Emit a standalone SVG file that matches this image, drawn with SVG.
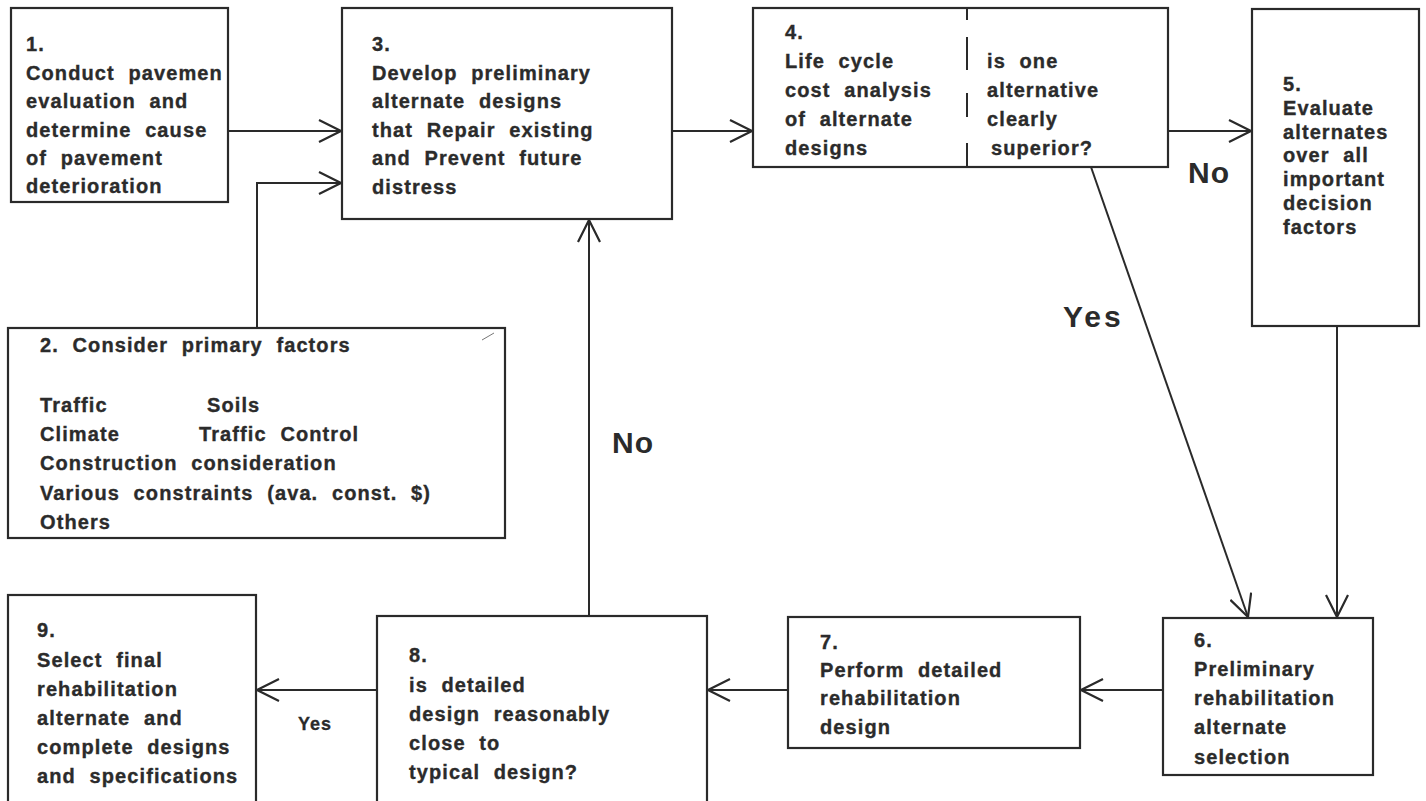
<svg xmlns="http://www.w3.org/2000/svg" width="1426" height="801" viewBox="0 0 1426 801">
  <defs>
    <style>
      .box { fill: #ffffff; stroke: #2a2a2a; stroke-width: 2.2; }
      .t { font-family: "Liberation Sans", Arial, sans-serif; font-weight: bold; font-size: 20px; fill: #2b2b2b; stroke: #2b2b2b; stroke-width: 0.35px; letter-spacing: 1.1px; word-spacing: 7px; }
      .lbl { font-family: "Liberation Sans", Arial, sans-serif; font-weight: bold; font-size: 30px; fill: #2b2b2b; letter-spacing: 1px; }
      .lbl-s { font-family: "Liberation Sans", Arial, sans-serif; font-weight: bold; font-size: 18px; fill: #2b2b2b; stroke: #2b2b2b; stroke-width: 0.3px; letter-spacing: 1px; }
      .line { fill: none; stroke: #2a2a2a; stroke-width: 2; }
    </style>
    <marker id="arrow" viewBox="0 0 24 24" refX="23" refY="12" markerWidth="24" markerHeight="24" markerUnits="userSpaceOnUse" orient="auto">
      <path d="M1,1 L23,12 L1,23" fill="none" stroke="#2a2a2a" stroke-width="2.2"/>
    </marker>
  </defs>
  <rect width="1426" height="801" fill="#ffffff"/>

  <!-- connectors -->
  <g id="connectors">
    <line class="line" x1="228" y1="131" x2="341" y2="131" marker-end="url(#arrow)"/>
    <polyline class="line" points="257,328 257,183 341,183" marker-end="url(#arrow)"/>
    <line class="line" x1="672" y1="131" x2="752" y2="131" marker-end="url(#arrow)"/>
    <line class="line" x1="1168" y1="131" x2="1251" y2="131" marker-end="url(#arrow)"/>
    <line class="line" x1="1091" y1="167" x2="1248" y2="617" marker-end="url(#arrow)"/>
    <line class="line" x1="1337" y1="326" x2="1337" y2="617" marker-end="url(#arrow)"/>
    <line class="line" x1="1163" y1="690" x2="1081" y2="690" marker-end="url(#arrow)"/>
    <line class="line" x1="788" y1="690" x2="708" y2="690" marker-end="url(#arrow)"/>
    <line class="line" x1="377" y1="690" x2="257" y2="690" marker-end="url(#arrow)"/>
    <line class="line" x1="589" y1="616" x2="589" y2="220" marker-end="url(#arrow)"/>
    <text class="lbl" x="1188" y="183">No</text>
    <text class="lbl" x="1063" y="327" style="letter-spacing:3px">Yes</text>
    <text class="lbl" x="612" y="453">No</text>
    <text class="lbl-s" x="298" y="730">Yes</text>
  </g>

  <!-- 1 -->
  <g id="node1">
    <rect class="box" x="11" y="8" width="217" height="194"/>
    <text class="t" x="26" y="51">1.</text>
    <text class="t" x="26" y="80">Conduct pavemen</text>
    <text class="t" x="26" y="108">evaluation and</text>
    <text class="t" x="26" y="137">determine cause</text>
    <text class="t" x="26" y="165">of pavement</text>
    <text class="t" x="26" y="193">deterioration</text>
  </g>

  <!-- 2 -->
  <g id="node2">
    <rect class="box" x="8" y="328" width="497" height="210"/>
    <line x1="482" y1="340" x2="494" y2="333" stroke="#777" stroke-width="1"/>
    <text class="t" x="40" y="352">2. Consider primary factors</text>
    <text class="t" x="40" y="412">Traffic</text>
    <text class="t" x="207" y="412">Soils</text>
    <text class="t" x="40" y="441">Climate</text>
    <text class="t" x="199" y="441">Traffic Control</text>
    <text class="t" x="40" y="470">Construction consideration</text>
    <text class="t" x="40" y="500">Various constraints (ava. const. $)</text>
    <text class="t" x="40" y="529">Others</text>
  </g>

  <!-- 3 -->
  <g id="node3">
    <rect class="box" x="342" y="8" width="330" height="211"/>
    <text class="t" x="372" y="51">3.</text>
    <text class="t" x="372" y="80">Develop preliminary</text>
    <text class="t" x="372" y="108">alternate designs</text>
    <text class="t" x="372" y="137">that Repair existing</text>
    <text class="t" x="372" y="165">and Prevent future</text>
    <text class="t" x="372" y="194">distress</text>
  </g>

  <!-- 4 -->
  <g id="node4">
    <rect class="box" x="753" y="8" width="415" height="159"/>
    <line x1="967" y1="8" x2="967" y2="167" stroke="#2a2a2a" stroke-width="2" stroke-dasharray="12,17,33,23,24,26,25"/>
    <text class="t" x="785" y="39">4.</text>
    <text class="t" x="785" y="68">Life cycle</text>
    <text class="t" x="785" y="97">cost analysis</text>
    <text class="t" x="785" y="126">of alternate</text>
    <text class="t" x="785" y="155">designs</text>
    <text class="t" x="987" y="68">is one</text>
    <text class="t" x="987" y="97">alternative</text>
    <text class="t" x="987" y="126">clearly</text>
    <text class="t" x="991" y="155">superior?</text>
  </g>

  <!-- 5 -->
  <g id="node5">
    <rect class="box" x="1252" y="9" width="167" height="317"/>
    <text class="t" x="1283" y="91">5.</text>
    <text class="t" x="1283" y="115">Evaluate</text>
    <text class="t" x="1283" y="139">alternates</text>
    <text class="t" x="1283" y="162">over all</text>
    <text class="t" x="1283" y="186">important</text>
    <text class="t" x="1283" y="210">decision</text>
    <text class="t" x="1283" y="234">factors</text>
  </g>

  <!-- 6 -->
  <g id="node6">
    <rect class="box" x="1163" y="618" width="210" height="157"/>
    <text class="t" x="1194" y="647">6.</text>
    <text class="t" x="1194" y="676">Preliminary</text>
    <text class="t" x="1194" y="705">rehabilitation</text>
    <text class="t" x="1194" y="734">alternate</text>
    <text class="t" x="1194" y="764">selection</text>
  </g>

  <!-- 7 -->
  <g id="node7">
    <rect class="box" x="788" y="617" width="292" height="131"/>
    <text class="t" x="820" y="649">7.</text>
    <text class="t" x="820" y="677">Perform detailed</text>
    <text class="t" x="820" y="705">rehabilitation</text>
    <text class="t" x="820" y="734">design</text>
  </g>

  <!-- 8 -->
  <g id="node8">
    <rect class="box" x="377" y="616" width="330" height="200"/>
    <text class="t" x="409" y="662">8.</text>
    <text class="t" x="409" y="692">is detailed</text>
    <text class="t" x="409" y="721">design reasonably</text>
    <text class="t" x="409" y="750">close to</text>
    <text class="t" x="409" y="779">typical design?</text>
  </g>

  <!-- 9 -->
  <g id="node9">
    <rect class="box" x="8" y="595" width="248" height="220"/>
    <text class="t" x="37" y="637">9.</text>
    <text class="t" x="37" y="667">Select final</text>
    <text class="t" x="37" y="696">rehabilitation</text>
    <text class="t" x="37" y="725">alternate and</text>
    <text class="t" x="37" y="754">complete designs</text>
    <text class="t" x="37" y="783">and specifications</text>
  </g>
</svg>
